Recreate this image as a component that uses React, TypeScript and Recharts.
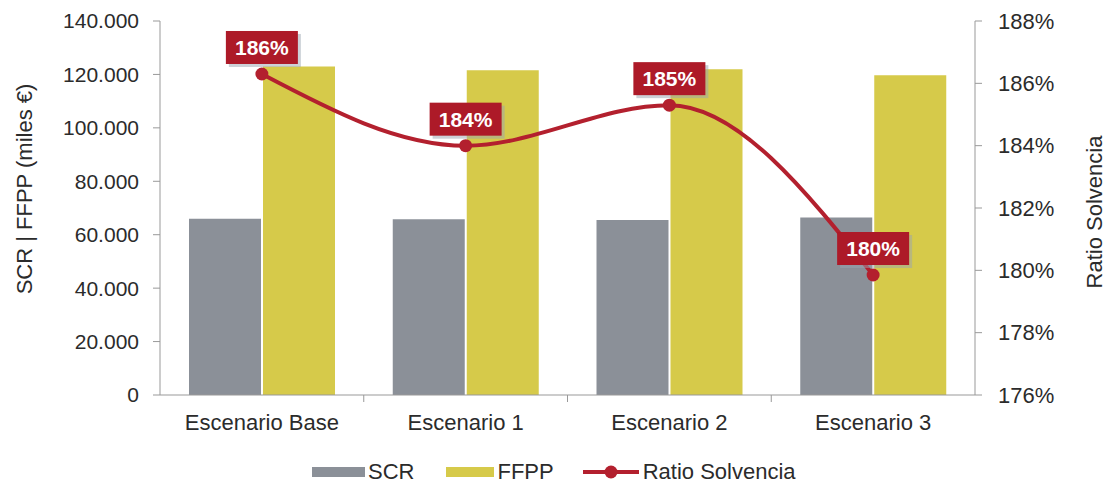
import { ComposedChart, Bar, Line, XAxis, YAxis, Legend, LabelList } from "recharts";

const categories = ["Escenario Base", "Escenario 1", "Escenario 2", "Escenario 3"];
const scrValues = [66000, 65800, 65500, 66400];
const ffppValues = [123000, 121600, 121900, 119700];
const ratioValues = [186.3, 184.0, 185.3, 179.85];
const ratioLabels = ["186%", "184%", "185%", "180%"];
const leftTicks = [0, 20000, 40000, 60000, 80000, 100000, 120000, 140000];
const rightTicks = [176, 178, 180, 182, 184, 186, 188];

const data = categories.map((name, i) => ({
  name,
  scr: scrValues[i],
  ffpp: ffppValues[i],
  ratio: ratioValues[i],
  label: ratioLabels[i],
}));

const FONT = "'Liberation Sans', Arial, sans-serif";
const GRAY = "#8b9098";
const YELLOW = "#d6ca4a";
const RED = "#b3202e";
const TEXT = "#2b2b2b";

const fmtThousands = (v: number) =>
  v === 0 ? "0" : v.toLocaleString("de-DE", { maximumFractionDigits: 0 });

/* red boxed value above each point */
const RatioLabel = (props: any) => {
  const { x, y, index } = props;
  const w = 72;
  const h = 33;
  return (
    <g>
      <rect x={x - w / 2 + 3} y={y - h - 10 + 3} width={w} height={h} fill="#9aa3b0" opacity={0.5} />
      <rect x={x - w / 2} y={y - h - 10} width={w} height={h} fill="#ad1a28" />
      <text
        x={x}
        y={y - h / 2 - 10}
        textAnchor="middle"
        dominantBaseline="central"
        fill="#fff"
        fontSize={21}
        fontWeight="bold"
        fontFamily={FONT}
      >
        {ratioLabels[index]}
      </text>
    </g>
  );
};

/* category tick: label centered, tick line at band edge */
const CategoryTick = (props: any) => {
  const { x, y, payload, index } = props;
  const band = 815 / categories.length;
  return (
    <g>
      <text x={x} y={y + 27} textAnchor="middle" fill={TEXT} fontSize={22} fontFamily={FONT}>
        {payload.value}
      </text>
      {index < categories.length - 1 && (
        <line x1={x + band / 2} x2={x + band / 2} y1={y - 8} y2={y - 1} stroke="#999" />
      )}
    </g>
  );
};

const LegendContent = () => (
  <div
    style={{
      display: "flex",
      justifyContent: "flex-start",
      alignItems: "center",
      fontFamily: FONT,
      fontSize: 22,
      color: TEXT,
      paddingLeft: 312,
      height: 22,
    }}
  >
    <span style={{ display: "inline-block", width: 53, height: 10, background: GRAY, marginRight: 3 }} />
    <span style={{ marginRight: 32 }}>SCR</span>
    <span style={{ display: "inline-block", width: 48, height: 10, background: YELLOW, marginRight: 3 }} />
    <span style={{ marginRight: 29 }}>FFPP</span>
    <svg width={56} height={16} style={{ marginRight: 4 }}>
      <line x1={0} x2={56} y1={8} y2={8} stroke={RED} strokeWidth={4} />
      <circle cx={28} cy={8} r={6.5} fill={RED} />
    </svg>
    <span>Ratio Solvencia</span>
  </div>
);

const LeftTitle = () => (
  <text
    x={24}
    y={189}
    transform="rotate(-90 24 189)"
    textAnchor="middle"
    dominantBaseline="central"
    fill={TEXT}
    fontSize={22}
    fontFamily={FONT}
  >
    SCR | FFPP (miles €)
  </text>
);

const RightTitle = () => (
  <text
    x={1094}
    y={212}
    transform="rotate(-90 1094 212)"
    textAnchor="middle"
    dominantBaseline="central"
    fill={TEXT}
    fontSize={22}
    fontFamily={FONT}
  >
    Ratio Solvencia
  </text>
);

export default function App() {
  return (
    <div style={{ position: "absolute", left: 0, top: 0, width: 1107, height: 483, background: "#fff" }}>
      <ComposedChart
        width={1107}
        height={483}
        data={data}
        margin={{ top: 21, right: 0, bottom: 0, left: 0 }}
        barGap={2}
      >
        <XAxis
          dataKey="name"
          xAxisId="x"
          height={66}
          tick={<CategoryTick />}
          tickLine={false}
          axisLine={{ stroke: "#999" }}
          interval={0}
        />
        <YAxis
          yAxisId="left"
          width={160}
          domain={[0, 140000]}
          ticks={leftTicks}
          tickFormatter={fmtThousands}
          tick={{ fill: TEXT, fontSize: 21, fontFamily: FONT }}
          tickSize={7}
          tickMargin={14}
          axisLine={{ stroke: "#999" }}
          tickLine={{ stroke: "#999" }}
          label={<LeftTitle />}
        />
        <YAxis
          yAxisId="right"
          orientation="right"
          width={132}
          domain={[176, 188]}
          ticks={rightTicks}
          tickFormatter={(v: number) => `${v}%`}
          tick={{ fill: TEXT, fontSize: 22, fontFamily: FONT }}
          tickSize={7}
          tickMargin={16}
          axisLine={{ stroke: "#999" }}
          tickLine={{ stroke: "#999" }}
          label={<RightTitle />}
        />
        <Bar dataKey="scr" name="SCR" xAxisId="x" yAxisId="left" fill={GRAY} barSize={72} isAnimationActive={false} />
        <Bar dataKey="ffpp" name="FFPP" xAxisId="x" yAxisId="left" fill={YELLOW} barSize={72} isAnimationActive={false} />
        <Line
          dataKey="ratio"
          name="Ratio Solvencia"
          xAxisId="x"
          yAxisId="right"
          type="monotone"
          stroke={RED}
          strokeWidth={4}
          dot={{ r: 6.5, fill: RED, stroke: RED, strokeWidth: 0 }}
          isAnimationActive={false}
        >
          <LabelList dataKey="label" content={<RatioLabel />} />
        </Line>
        <Legend verticalAlign="bottom" height={22} content={<LegendContent />} />
      </ComposedChart>
    </div>
  );
}
